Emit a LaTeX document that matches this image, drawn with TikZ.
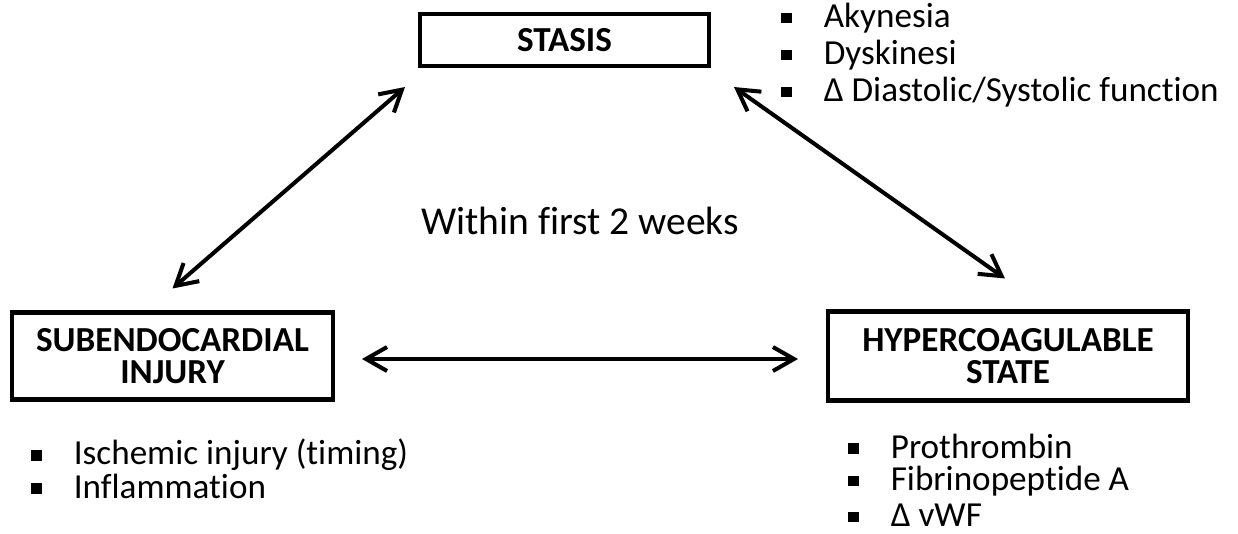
\documentclass[tikz,border=0pt]{standalone}
\usepackage{fontspec}
\setmainfont{Carlito}[Ligatures=NoCommon]
\usetikzlibrary{arrows.meta,calc}
\newcommand{\blt}{\makebox[0.85cm][l]{\rule[0.12em]{0.3em}{0.3em}}}

\begin{document}
\begin{tikzpicture}[x=0.02cm,y=-0.02cm,
  box/.style={draw,line width=2.3pt,inner sep=0pt,align=center,font=\fontsize{20}{18.5}\selectfont\bfseries},
  item/.style={anchor=west,inner sep=0pt,font=\fontsize{20}{24}\selectfont},
  dbl/.style={line width=2.3pt,{Straight Barb[length=0.42cm,width=0.48cm]}-{Straight Barb[length=0.42cm,width=0.48cm]}}]
\useasboundingbox (0,0) rectangle (1238,534);
 \node[box,minimum width=5.78cm,minimum height=1.04cm] (stasis) at (564.5,40) {STASIS};
 \node[box,minimum width=6.42cm,minimum height=1.74cm] (sub) at (172.5,356) {SUBENDOCARDIAL\\INJURY};
 \node[box,minimum width=7.2cm,minimum height=1.78cm] (hyper) at (1008,356) {HYPERCOAGULABLE\\STATE};
 \node[font=\fontsize{22.5}{26}\selectfont] (within) at (580,221) {Within first 2 weeks};
 \node[item] (akin) at (781,18) {\blt Akynesia};
 \node[item] (dysk) at (781,55) {\blt Dyskinesi};
 \node[item] (diast) at (781,92) {\blt Δ Diastolic/Systolic function};
 \node[item] (isch) at (31,455) {\blt Ischemic injury (timing)};
 \node[item] (infl) at (31,486) {\blt Inflammation};
 \node[item] (proth) at (848,446) {\blt Prothrombin};
 \node[item] (fibr) at (848,481) {\blt Fibrinopeptide A};
 \node[item] (vwf) at (848,515) {\blt Δ vWF};
 \draw[dbl] ($(sub.north)+(0,-22)$) -- ($(stasis.south west)+(-13,19)$);
 \draw[dbl] ($(stasis.south east)+(23,19)$) -- ($(hyper.north)+(-3,-31)$);
 \draw[dbl] ($(sub.east)+(27,3)$) -- ($(hyper.west)+(-28,3)$);
\end{tikzpicture}
\end{document}
